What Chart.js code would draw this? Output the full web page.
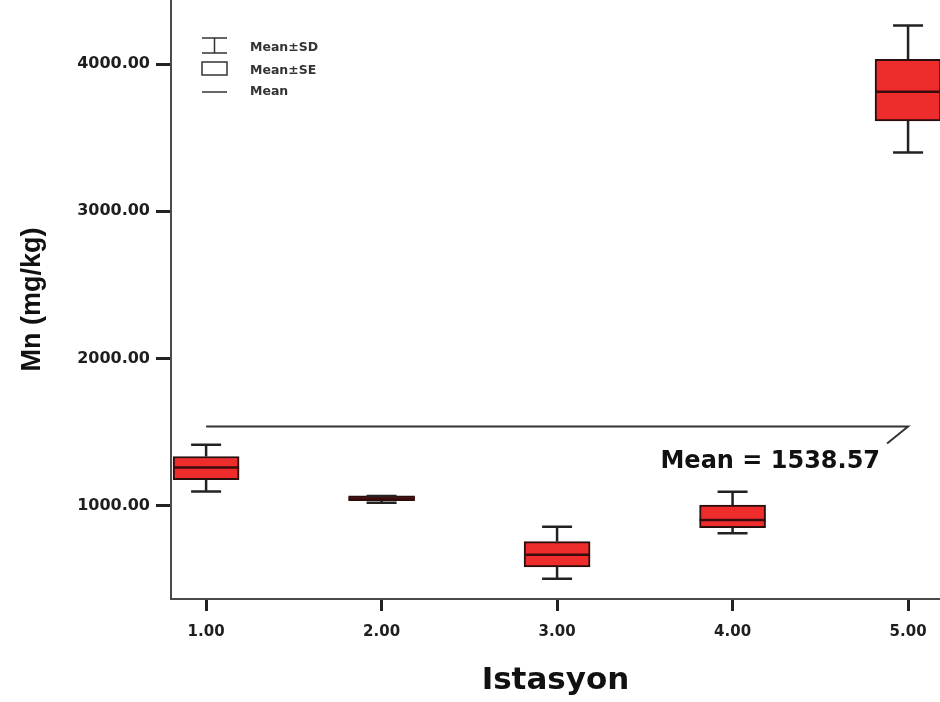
<!DOCTYPE html>
<html>
<head>
<meta charset="utf-8">
<script src="https://cdn.jsdelivr.net/npm/chart.js@4.4.1/dist/chart.umd.min.js"></script>
<style>
  html, body { margin: 0; padding: 0; background: #ffffff; }
  #wrap { width: 940px; height: 702px; position: relative; }
</style>
</head>
<body>
<div id="wrap"><canvas id="c" width="940" height="702"></canvas></div>
<script>
// Mn concentration (mg/kg) per station: mean, mean±SE box, mean±SD whiskers
const stations   = [1, 2, 3, 4, 5];
const yTickVals  = [1000, 2000, 3000, 4000];
const xTickVals  = [1, 2, 3, 4, 5];
const means      = [1260, 1050, 668, 903, 3812];
const seLow      = [1177, 1035, 585, 852, 3614];
const seHigh     = [1335, 1067, 757, 1005, 4032];
const sdLow      = [1097, 1021, 505, 814, 3399];
const sdHigh     = [1415, 1066, 857, 1095, 4261];
const grandMean  = 1538.57;

const INK = '#1e1e1e';
const AXIS = '#4a4a4a';

const decor = {
  id: 'decor',
  afterDatasetsDraw(chart) {
    const { ctx, scales: { x, y } } = chart;
    ctx.save();
    // whiskers (mean ± SD)
    ctx.strokeStyle = '#222';
    ctx.lineWidth = 2.5;
    const cap = 15;
    stations.forEach((s, i) => {
      const px = x.getPixelForValue(s);
      const yTop = y.getPixelForValue(sdHigh[i]);
      const yBot = y.getPixelForValue(sdLow[i]);
      const yBoxTop = y.getPixelForValue(seHigh[i]);
      const yBoxBot = y.getPixelForValue(seLow[i]);
      ctx.beginPath();
      if (yTop < yBoxTop) { ctx.moveTo(px, yTop); ctx.lineTo(px, yBoxTop); }
      if (yBot > yBoxBot) { ctx.moveTo(px, yBoxBot); ctx.lineTo(px, yBot); }
      ctx.moveTo(px - cap, yTop); ctx.lineTo(px + cap, yTop);
      ctx.moveTo(px - cap, yBot); ctx.lineTo(px + cap, yBot);
      ctx.stroke();
    });
    // mean lines inside the boxes
    ctx.strokeStyle = '#3b0c0c';
    ctx.lineWidth = 2.5;
    stations.forEach((s, i) => {
      const px = x.getPixelForValue(s);
      const py = y.getPixelForValue(means[i]);
      ctx.beginPath();
      ctx.moveTo(px - 33, py); ctx.lineTo(px + 33, py);
      ctx.stroke();
    });
    // grand mean reference line with callout
    const gy = y.getPixelForValue(grandMean);
    const gx0 = x.getPixelForValue(1);
    const gx1 = x.getPixelForValue(5);
    ctx.strokeStyle = '#333';
    ctx.lineWidth = 2;
    ctx.beginPath();
    ctx.moveTo(gx0, gy); ctx.lineTo(gx1, gy);
    ctx.lineTo(gx1 - 21, gy + 17);
    ctx.stroke();
    ctx.fillStyle = '#111';
    ctx.font = 'bold 24px "DejaVu Sans"';
    ctx.textAlign = 'right';
    ctx.textBaseline = 'middle';
    ctx.fillText('Mean = ' + grandMean.toFixed(2), gx1 - 28, gy + 35);

    // legend
    const lx = 202, lw = 25;
    ctx.strokeStyle = '#333';
    ctx.lineWidth = 1.5;
    ctx.beginPath();
    ctx.moveTo(lx, 38); ctx.lineTo(lx + lw, 38);
    ctx.moveTo(lx + lw / 2, 38); ctx.lineTo(lx + lw / 2, 53);
    ctx.moveTo(lx, 53); ctx.lineTo(lx + lw, 53);
    ctx.stroke();
    ctx.strokeRect(lx, 62, lw, 13);
    ctx.beginPath();
    ctx.moveTo(lx, 92); ctx.lineTo(lx + lw, 92);
    ctx.stroke();
    ctx.fillStyle = '#333';
    ctx.font = 'bold 12.5px "DejaVu Sans"';
    ctx.textAlign = 'left';
    ctx.fillText('Mean\u00B1SD', 250, 48);
    ctx.fillText('Mean\u00B1SE', 250, 71);
    ctx.fillText('Mean', 250, 92);
    ctx.restore();
  }
};

new Chart(document.getElementById('c'), {
  type: 'bar',
  data: {
    datasets: [{
      label: 'Mean\u00B1SE',
      data: stations.map((s, i) => ({ x: s, y: [seLow[i], seHigh[i]] })),
      backgroundColor: '#ef2c2c',
      borderColor: '#2a0d0d',
      borderWidth: 2,
      borderSkipped: false,
      barThickness: 66,
      grouped: false
    }]
  },
  options: {
    responsive: false,
    animation: false,
    layout: { padding: 0 },
    plugins: { legend: { display: false }, tooltip: { enabled: false } },
    scales: {
      x: {
        type: 'linear',
        offset: false,
        min: 0.80,
        max: 5.182,
        afterBuildTicks(scale) { scale.ticks = xTickVals.map(v => ({ value: v })); },
        afterFit(scale) {
          scale.height = 103;
          scale.paddingLeft = 0;
          scale.paddingRight = 0;
        },
        ticks: {
          callback: v => Number(v).toFixed(2),
          font: { family: 'DejaVu Sans', weight: 'bold', size: 15 },
          color: INK,
          padding: 12,
          maxRotation: 0
        },
        grid: { display: true, offset: false, drawOnChartArea: false, drawTicks: true, tickLength: 12, tickWidth: 3, tickColor: '#222' },
        border: { display: true, color: AXIS, width: 2 },
        title: {
          display: true,
          text: 'Istasyon',
          font: { family: 'DejaVu Sans', weight: 'bold', size: 31 },
          color: '#111',
          padding: { top: 0, bottom: 2 }
        }
      },
      y: {
        type: 'linear',
        min: 367,
        max: 4435,
        afterBuildTicks(scale) { scale.ticks = yTickVals.map(v => ({ value: v })); },
        afterFit(scale) {
          scale.width = 171;
          scale.paddingTop = 0;
          scale.paddingBottom = 0;
        },
        ticks: {
          callback: v => Number(v).toFixed(2),
          font: { family: 'DejaVu Sans', weight: 'bold', size: 16 },
          color: INK,
          padding: 6
        },
        grid: { display: true, drawOnChartArea: false, drawTicks: true, tickLength: 15, tickWidth: 3, tickColor: '#222' },
        border: { display: true, color: AXIS, width: 2 },
        title: {
          display: true,
          text: 'Mn (mg/kg)',
          font: { family: 'Liberation Sans', weight: 'bold', size: 27 },
          color: '#111',
          padding: { top: 16, bottom: 0 }
        }
      }
    }
  },
  plugins: [decor]
});
</script>
</body>
</html>
